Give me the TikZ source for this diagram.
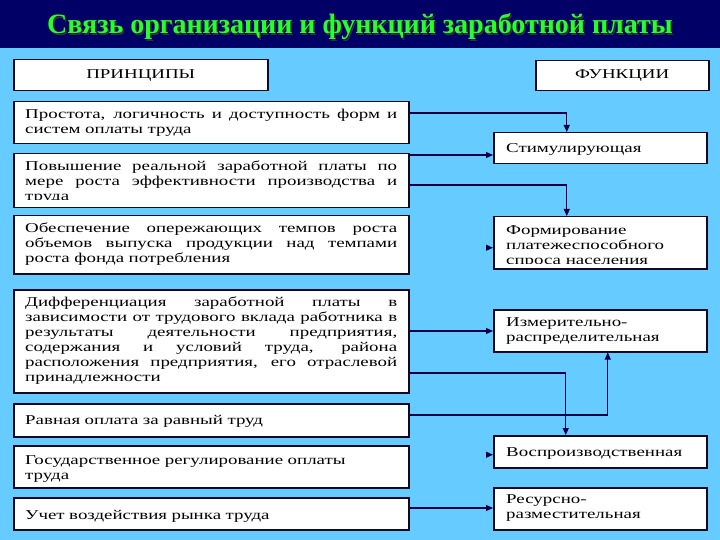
\documentclass[tikz,border=0pt]{standalone}
\usepackage{fontspec}
\setmainfont{Liberation Serif}
\newfontfamily\bx[FakeStretch=1.4]{Liberation Serif}
\usetikzlibrary{arrows.meta,calc}
\definecolor{bg}{RGB}{102,204,255}
\definecolor{navy}{RGB}{0,0,102}
\definecolor{ttl}{RGB}{40,255,40}
\definecolor{ln}{RGB}{0,0,70}
\definecolor{bd}{RGB}{10,10,40}
\newcommand\JL[1]{\leavevmode\hbox to 372pt{\spaceskip=.3em plus 1fil\relax #1}}
\newcommand\ST{\rule{0pt}{10pt}}
\begin{document}
\begin{tikzpicture}[x=1pt,y=-1pt,
  box/.style={draw=bd,line width=1.5pt,fill=white,inner sep=0pt,anchor=north west},
  txt/.style={inner sep=0pt,anchor=north west,align=left,font=\bx\fontsize{13.5}{15}\selectfont},
  ltxt/.style={txt,text width=372pt},
  hdr/.style={box,font=\bx\fontsize{13.5}{15}\selectfont},
  arr/.style={draw=ln,line width=1.2pt,-{Triangle[length=7pt,width=6pt]}},
]
\useasboundingbox (0,0) rectangle (720,540);
\fill[bg] (0,0) rectangle (720,540);
\fill[navy] (0,0) rectangle (720,48);
\node[text=black!80,font=\fontsize{28}{30}\selectfont\bfseries] (ttlsh) at (361.5,28.5) {Связь организации и функций заработной платы};
\node[text=ttl,font=\fontsize{28}{30}\selectfont\bfseries] (ttl) at (360,27) {Связь организации и функций заработной платы};

% headers
\node[hdr,minimum width=254pt,minimum height=31pt] (L0) at (13,59) {ПРИНЦИПЫ};
\node[hdr,minimum width=173pt,minimum height=30pt] (R0) at (535,60) {ФУНКЦИИ};

% left boxes
\node[box,minimum width=395pt,minimum height=42pt] (L1) at (13,101) {};
\node[box,minimum width=395pt,minimum height=54pt] (L2) at (13,153) {};
\node[box,minimum width=395pt,minimum height=58pt] (L3) at (13,215) {};
\node[box,minimum width=395pt,minimum height=103pt] (L4) at (13,289) {};
\node[box,minimum width=395pt,minimum height=33pt] (L5) at (13,403) {};
\node[box,minimum width=395pt,minimum height=42pt] (L6) at (13,445) {};
\node[box,minimum width=395pt,minimum height=32pt] (L7) at (13,497) {};

% right boxes
\node[box,minimum width=213pt,minimum height=31pt] (R1) at (493,132) {};
\node[box,minimum width=213pt,minimum height=52pt] (R2) at (493,216) {};
\node[box,minimum width=213pt,minimum height=42pt] (R3) at (493,309) {};
\node[box,minimum width=213pt,minimum height=32pt] (R4) at (493,435) {};
\node[box,minimum width=213pt,minimum height=42pt] (R5) at (493,487) {};

% left texts
\node[ltxt] (t1) at (25,108) {\ST\JL{Простота, логичность и доступность форм и}\\систем оплаты труда};
\begin{scope}
\clip (L2.north west) rectangle ($(L2.south east)+(0,-9)$);
\node[ltxt] (t2) at (25,160) {\ST\JL{Повышение реальной заработной платы по}\\\JL{мере роста эффективности производства и}\\труда};
\end{scope}
\node[ltxt] (t3) at (25,222) {\ST\JL{Обеспечение опережающих темпов роста}\\\JL{объемов выпуска продукции над темпами}\\роста фонда потребления};
\node[ltxt] (t4) at (25,296) {\ST\JL{Дифференциация заработной платы в}\\\JL{зависимости от трудового вклада работника в}\\\JL{результаты деятельности предприятия,}\\\JL{содержания и условий труда, района}\\\JL{расположения предприятия, его отраслевой}\\принадлежности};
\node[ltxt] (t5) at (25,414) {\ST Равная оплата за равный труд};
\node[ltxt] (t6) at (25,454) {\ST Государственное регулирование оплаты\\труда};
\node[ltxt] (t7) at (25,509) {\ST Учет воздействия рынка труда};

% right texts
\node[txt] (u1) at (506,142) {\ST Стимулирующая};
\begin{scope}
\clip (R2.north west) rectangle ($(R2.south east)+(0,-6)$);
\node[txt] (u2) at (506,224) {\ST Формирование\\платежеспособного\\спроса населения};
\end{scope}
\node[txt] (u3) at (506,316) {\ST Измерительно-\\распределительная};
\node[txt] (u4) at (506,446) {\ST Воспроизводственная};
\node[txt] (u5) at (506,493) {\ST Ресурсно-\\разместительная};

% connectors
\coordinate (s1) at ([yshift=-12pt]L1.north east);
\coordinate (s2) at ([yshift=-2pt]L2.north east);
\coordinate (s3) at ([yshift=-32pt]L2.north east);
\coordinate (s5) at ([yshift=-42pt]L4.north east);
\coordinate (s6) at ([yshift=-84pt]L4.north east);
\coordinate (s7) at ([yshift=-12pt]L5.north east);
\coordinate (s9) at ([yshift=-11pt]L7.north east);
\coordinate (e1) at ([xshift=-33.5pt]R1.north);
\coordinate (e3) at ([xshift=-33.5pt]R2.north);
\coordinate (e6) at ([xshift=-34.5pt]R4.north);
\coordinate (e7) at ([xshift=7.5pt]R3.south);
\coordinate (h2) at ([yshift=-5pt]R2.west);
\coordinate (h4) at ([yshift=-3pt]R4.west);

\draw[arr] (s1) -| (e1);
\draw[arr] (s2) -- (s2 -| R1.west);
\draw[arr] (s3) -| (e3);
\draw[arr] ([xshift=-7pt]h2) -- (h2);
\draw[arr] (s5) -- (s5 -| R3.west);
\draw[arr] (s6) -| (e6);
\draw[arr] (s7) -| (e7);
\draw[arr] ([xshift=-7pt]h4) -- (h4);
\draw[arr] (s9) -- (s9 -| R5.west);
\end{tikzpicture}
\end{document}
